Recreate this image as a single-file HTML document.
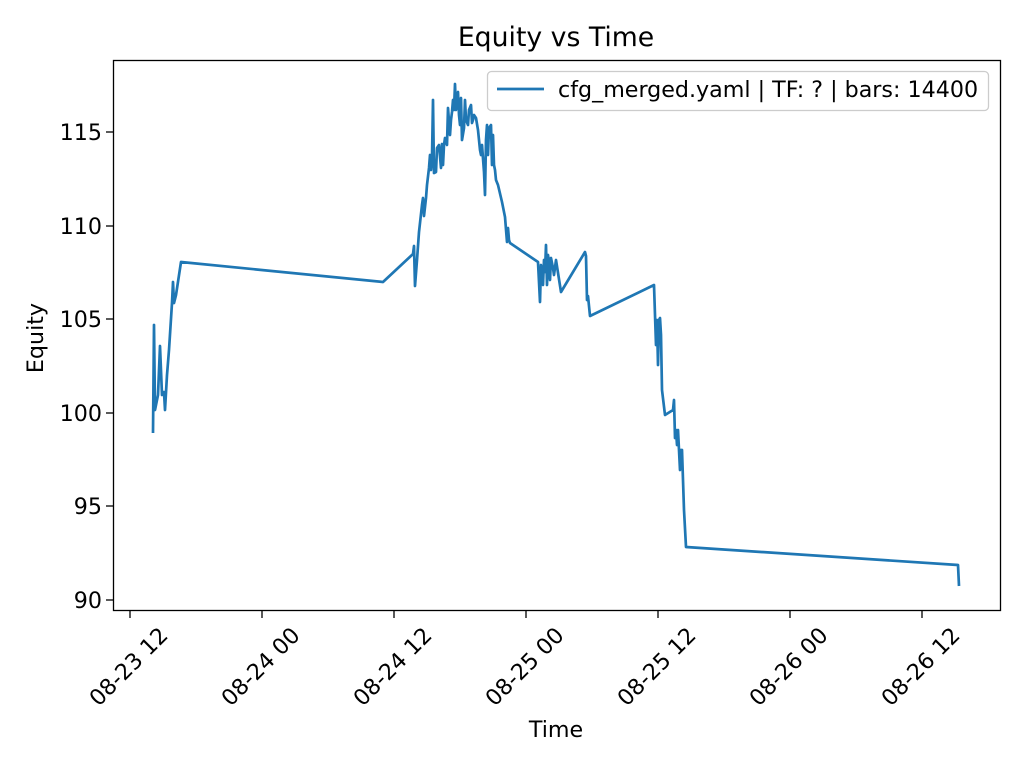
<!DOCTYPE html>
<html><head><meta charset="utf-8"><style>body{margin:0;background:#fff}svg{display:block}text{font-family:"DejaVu Sans","Liberation Sans",sans-serif;fill:#000}</style></head>
<body>
<svg width="1024" height="768" viewBox="0 0 1024 768" xmlns="http://www.w3.org/2000/svg">
<rect width="1024" height="768" fill="#fff"/>
<text x="556" y="46" font-size="26.7" text-anchor="middle">Equity vs Time</text>
<polyline fill="none" stroke="#1f77b4" stroke-width="2.7" stroke-linejoin="round" points="153,433 154,325 155,410 158,395 160,346 162,395 164,392 165,410 167,375 169,350 172,303 173,282 174,303 176,295 181,262 383,282 413,254 414,246 415,286 417,260 419,232 422,205 423,198 424,216 426,198 427,185 429,168 430,155 431,170 432,158 433,100 434,173 436,172 437,148 439,145 441,168 442,144 443,165 444,145 445,138 447,145 448,108 450,135 451,120 452,112 453,100 454,110 455,84 456,110 458,92 459,115 460,125 461,98 462,140 464,128 465,100 466,120 468,125 469,110 471,105 472,123 473,120 474,115 476,118 478,130 480,150 481,155 482,145 484,172 485,195 486,140 487,125 488,155 489,128 491,125 492,165 493,135 494,165 495,170 496,180 498,185 502,202 505,217 507,242 508,228 509,240 510,243 538,262 540,302 541,265 543,285 544,260 545,272 546,245 547,285 548,255 549,262 550,280 551,258 553,268 554,275 556,260 561,292 585,252 586,256 587,300 588,296 589,306 590,316 654,285 656,345 657,320 658,365 659,320 660,318 661,335 662,390 665,415 673,410 674,400 675,438 676,430 677,445 678,430 680,470 681,450 682,450 684,510 686,547 958,565 959,586"/>
<rect x="113.5" y="60.5" width="887" height="550" fill="none" stroke="#000" stroke-width="1.3"/>
<g stroke="#000" stroke-width="1.3">
<line x1="113" y1="132" x2="106" y2="132"/><line x1="113" y1="226" x2="106" y2="226"/><line x1="113" y1="319" x2="106" y2="319"/><line x1="113" y1="413" x2="106" y2="413"/><line x1="113" y1="506" x2="106" y2="506"/><line x1="113" y1="600" x2="106" y2="600"/>
<line x1="130" y1="611" x2="130" y2="618"/><line x1="262" y1="611" x2="262" y2="618"/><line x1="394" y1="611" x2="394" y2="618"/><line x1="526" y1="611" x2="526" y2="618"/><line x1="658" y1="611" x2="658" y2="618"/><line x1="790" y1="611" x2="790" y2="618"/><line x1="922" y1="611" x2="922" y2="618"/>
</g>
<g font-size="22.2" text-anchor="end">
<text x="102" y="140">115</text><text x="102" y="234">110</text><text x="102" y="327">105</text><text x="102" y="421">100</text><text x="102" y="514">95</text><text x="102" y="608">90</text>
</g>
<g font-size="22.2" text-anchor="middle" dominant-baseline="central">
<text x="129" y="667" transform="rotate(-45 129 667)">08-23 12</text>
<text x="261" y="667" transform="rotate(-45 261 667)">08-24 00</text>
<text x="393" y="667" transform="rotate(-45 393 667)">08-24 12</text>
<text x="525" y="667" transform="rotate(-45 525 667)">08-25 00</text>
<text x="657" y="667" transform="rotate(-45 657 667)">08-25 12</text>
<text x="789" y="667" transform="rotate(-45 789 667)">08-26 00</text>
<text x="921" y="667" transform="rotate(-45 921 667)">08-26 12</text>
</g>
<text x="556" y="737" font-size="22.2" text-anchor="middle">Time</text>
<text x="43" y="338" font-size="22.2" text-anchor="middle" transform="rotate(-90 43 338)">Equity</text>
<rect x="487.5" y="71.5" width="501" height="39" rx="4" fill="#fff" fill-opacity="0.8" stroke="#ccc" stroke-width="1.3"/>
<line x1="497" y1="89" x2="544" y2="89" stroke="#1f77b4" stroke-width="2.7"/>
<text x="558" y="97" font-size="22.2">cfg_merged.yaml | TF: ? | bars: 14400</text>
</svg>
</body></html>
